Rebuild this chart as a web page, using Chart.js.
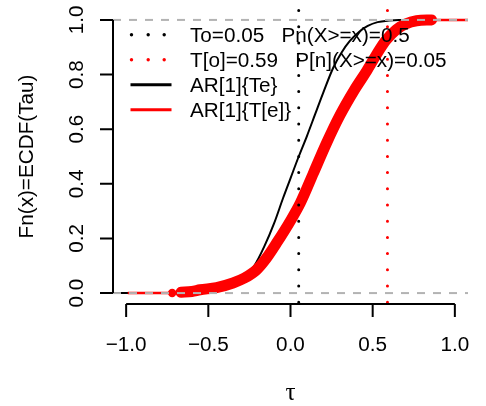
<!DOCTYPE html>
<html><head><meta charset="utf-8">
<script src="https://cdn.jsdelivr.net/npm/chart.js@4/dist/chart.umd.min.js"></script>
<style>html,body{margin:0;padding:0;background:#fff;}#wrap{width:486px;height:406px;}</style>
</head><body><div id="wrap"><canvas id="c" width="486" height="406"></canvas></div>
<script>
// ---- data ----
const xTicks = [-1.0, -0.5, 0.0, 0.5, 1.0];
const yTicks = [0.0, 0.2, 0.4, 0.6, 0.8, 1.0];
const xLim = [-1.08, 1.08];
const yLim = [-0.04, 1.04];

const To = 0.05;   // Pn(X>=x)=0.5
const Tn = 0.59;   // P[n](X>=x)=0.05

// AR[1]{Te} (black curve)
const blackX = [-1.08, -0.70, -0.55, -0.45, -0.35, -0.28, -0.22, -0.16, -0.10, -0.045, 0.0, 0.05, 0.10, 0.15, 0.20, 0.26, 0.31, 0.36, 0.42, 0.47, 0.53, 0.60, 0.66, 1.08];
const blackY = [0, 0.0, 0.006, 0.014, 0.035, 0.06, 0.10, 0.17, 0.255, 0.348, 0.42, 0.50, 0.575, 0.655, 0.735, 0.825, 0.88, 0.922, 0.958, 0.978, 0.992, 0.998, 1.0, 1.0];

// AR[1]{T[e]} (red ECDF band)
const redX = [-0.666, -0.60, -0.55, -0.45, -0.35, -0.28, -0.207, -0.15, -0.085, 0.0, 0.06, 0.14, 0.219, 0.30, 0.39, 0.46, 0.523, 0.58, 0.645, 0.70, 0.767, 0.858];
const redY = [0.003, 0.006, 0.012, 0.02, 0.037, 0.055, 0.085, 0.125, 0.183, 0.265, 0.33, 0.44, 0.549, 0.65, 0.745, 0.81, 0.873, 0.925, 0.965, 0.985, 0.997, 1.0];
const redIsoX = [-0.72];
const redIsoY = [0];
const redLeftExtX = [-0.99, -0.72];
const redRightExtX = [0.858, 1.08];

const legendLabels = ["To=0.05   Pn(X>=x)=0.5", "T[o]=0.59   P[n](X>=x)=0.05", "AR[1]{Te}", "AR[1]{T[e]}"];
const xTitle = "\u03c4";
const yTitle = "Fn(x)=ECDF(Tau)";

// ---- build ----
const pts = (xa, ya) => xa.map((x, i) => ({x: x, y: ya[i]}));
const FONT = '20.7px "Liberation Sans", Arial, sans-serif';

const rAxes = {
  id: 'rAxes',
  afterDraw(chart) {
    const ctx = chart.ctx, ca = chart.chartArea;
    const xs = chart.scales.x, ys = chart.scales.y;
    ctx.save();
    ctx.strokeStyle = '#000'; ctx.fillStyle = '#000'; ctx.lineWidth = 2; ctx.lineCap = 'butt';
    // left axis
    const ax = ca.left;
    ctx.beginPath();
    ctx.moveTo(ax, ys.getPixelForValue(yTicks[0]));
    ctx.lineTo(ax, ys.getPixelForValue(yTicks[yTicks.length - 1]));
    yTicks.forEach(v => { const p = ys.getPixelForValue(v); ctx.moveTo(ax, p); ctx.lineTo(ax - 13, p); });
    ctx.stroke();
    // bottom axis
    const ay = ca.bottom;
    ctx.beginPath();
    ctx.moveTo(xs.getPixelForValue(xTicks[0]), ay);
    ctx.lineTo(xs.getPixelForValue(xTicks[xTicks.length - 1]), ay);
    xTicks.forEach(v => { const p = xs.getPixelForValue(v); ctx.moveTo(p, ay); ctx.lineTo(p, ay + 13); });
    ctx.stroke();
    ctx.font = FONT;
    ctx.textAlign = 'center'; ctx.textBaseline = 'alphabetic';
    const fmt = v => v.toFixed(1).replace('-', '\u2212');
    xTicks.forEach(v => ctx.fillText(fmt(v), xs.getPixelForValue(v), ay + 46.5));
    yTicks.forEach(v => {
      ctx.save(); ctx.translate(ax - 30, ys.getPixelForValue(v)); ctx.rotate(-Math.PI / 2);
      ctx.fillText(fmt(v), 0, 0); ctx.restore();
    });
    // titles
    ctx.save(); ctx.translate(33, (ca.top + ca.bottom) / 2); ctx.rotate(-Math.PI / 2);
    ctx.fillText(yTitle, 0, 0); ctx.restore();
    ctx.font = '25px "Liberation Serif", "DejaVu Serif", serif';
    ctx.fillText(xTitle, (ca.left + ca.right) / 2, ay + 96);
    // legend
    ctx.font = FONT; ctx.textAlign = 'left';
    const lx = ca.left, ly = ca.top;
    const rowsBase = [33, 58, 83, 108];
    const colors = ['#000', '#ff0000', '#000', '#ff0000'];
    rowsBase.forEach((b, i) => {
      const cy = ly + b - 7.3;
      ctx.fillStyle = colors[i]; ctx.strokeStyle = colors[i];
      if (i < 2) {
        [18.5, 35.2, 51.2].forEach(dx => { ctx.beginPath(); ctx.arc(lx + dx, cy, 1.7, 0, Math.PI * 2); ctx.fill(); });
      } else {
        ctx.lineWidth = 3; ctx.beginPath(); ctx.moveTo(lx + 17.5, cy); ctx.lineTo(lx + 58.5, cy); ctx.stroke();
      }
      ctx.fillStyle = '#000';
      ctx.fillText(legendLabels[i], lx + 77, ly + b);
    });
    ctx.restore();
  }
};

const bg = { id: 'bg', beforeDraw(c) { const x = c.ctx; x.save(); x.fillStyle = '#fff'; x.fillRect(0, 0, c.width, c.height); x.restore(); } };

new Chart(document.getElementById('c'), {
  type: 'scatter',
  data: {
    datasets: [
      { label: 'To', data: [{x: To, y: yLim[1]}, {x: To, y: yLim[0]}], showLine: true, borderColor: '#000', borderWidth: 3,
        borderDash: [0, 16.2], borderDashOffset: 14.6, borderCapStyle: 'round', pointRadius: 0, order: 0 },
      { label: 'Tn', data: [{x: Tn, y: yLim[1]}, {x: Tn, y: yLim[0]}], showLine: true, borderColor: '#ff0000', borderWidth: 3,
        borderDash: [0, 16.2], borderDashOffset: 14.6, borderCapStyle: 'round', pointRadius: 0, order: 1 },
      { label: 'h0', data: [{x: xLim[0], y: 0}, {x: xLim[1], y: 0}], showLine: true, borderColor: '#b3b3b3', borderWidth: 2,
        borderDash: [8, 8], pointRadius: 0, order: 2 },
      { label: 'h1', data: [{x: xLim[0], y: 1}, {x: xLim[1], y: 1}], showLine: true, borderColor: '#b3b3b3', borderWidth: 2,
        borderDash: [8, 8], pointRadius: 0, order: 3 },
      { label: 'redIso', data: pts(redIsoX, redIsoY), showLine: false, pointRadius: 4.2, pointBackgroundColor: '#ff0000',
        pointBorderWidth: 0, borderColor: '#ff0000', order: 4 },
      { label: 'AR[1]{T[e]}', data: pts(redX, redY), showLine: true, borderColor: '#ff0000', borderWidth: 11,
        borderCapStyle: 'round', borderJoinStyle: 'round', cubicInterpolationMode: 'monotone', pointRadius: 0, order: 5 },
      { label: 'redL', data: pts(redLeftExtX, [0, 0]), showLine: true, borderColor: '#ff0000', borderWidth: 2.5, pointRadius: 0, order: 6 },
      { label: 'redR', data: pts(redRightExtX, [1, 1]), showLine: true, borderColor: '#ff0000', borderWidth: 2.5, pointRadius: 0, order: 6 },
      { label: 'AR[1]{Te}', data: pts(blackX, blackY), showLine: true, borderColor: '#000', borderWidth: 2,
        cubicInterpolationMode: 'monotone', pointRadius: 0, order: 7 }
    ]
  },
  options: {
    responsive: false, devicePixelRatio: 1, animation: false,
    layout: { padding: { left: 113, right: 18, top: 9, bottom: 102 } },
    scales: {
      x: { type: 'linear', min: xLim[0], max: xLim[1], display: false },
      y: { type: 'linear', min: yLim[0], max: yLim[1], display: false }
    },
    plugins: { legend: { display: false }, tooltip: { enabled: false } }
  },
  plugins: [bg, rAxes]
});
</script></body></html>
